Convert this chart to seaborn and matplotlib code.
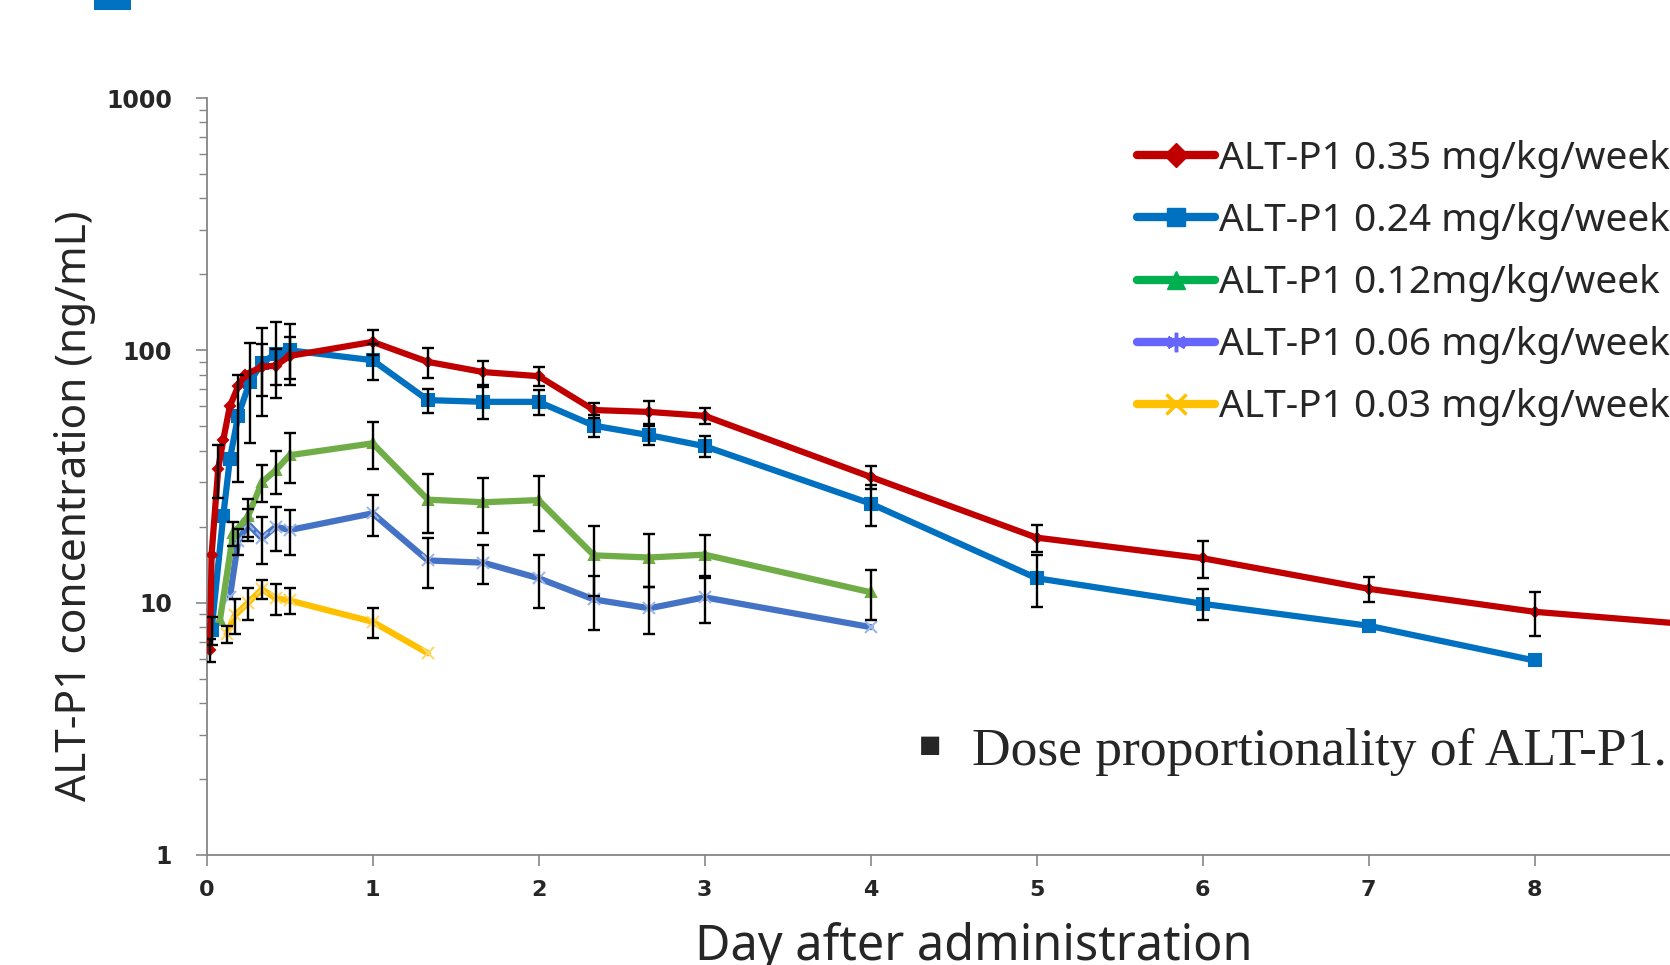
import matplotlib
matplotlib.use('Agg')
import matplotlib.pyplot as plt
import seaborn as sns
import numpy as np
from matplotlib.lines import Line2D
from matplotlib.patches import Rectangle
from matplotlib.ticker import LogLocator, NullFormatter

sns.set_style('white')
plt.rcParams['font.family'] = ['DejaVu Sans']

# ---------------- data ----------------
labels = ["ALT-P1 0.35 mg/kg/week", "ALT-P1 0.24 mg/kg/week",
          "ALT-P1 0.12mg/kg/week", "ALT-P1 0.06 mg/kg/week",
          "ALT-P1 0.03 mg/kg/week"]

day_035 = [0.02, 0.03, 0.07, 0.10, 0.14, 0.19, 0.23, 0.333, 0.417, 0.5, 1, 1.333,
           1.667, 2, 2.333, 2.667, 3, 4, 5, 6, 7, 8, 10]
conc_035 = [6.5, 15.5, 34, 44, 60, 72, 80, 86, 87, 95, 108, 90, 82, 79, 58, 57,
            55, 31.5, 18.1, 15.0, 11.35, 9.2, 7.2]
sd_035 = [0.7, 0, 8, 0, 0, 0, 0, 20, 14, 18, 12, 12, 9, 7, 4, 6, 4, 3.4, 2.2,
          2.5, 1.3, 1.8, 0]

day_024 = [0.03, 0.10, 0.14, 0.19, 0.26, 0.333, 0.417, 0.5, 1, 1.333, 1.667, 2,
           2.333, 2.667, 3, 4, 5, 6, 7, 8]
conc_024 = [7.8, 22, 37, 55, 75, 89, 97, 100, 91.4, 63.5, 62.5, 62.5, 50.3, 46.1,
            41.7, 24.7, 12.5, 9.9, 8.1, 5.9]
sd_024 = [1.0, 0, 0, 25, 32, 34, 32, 27, 15, 7, 9, 7, 5, 4, 4, 4.5, 2.9, 1.4, 0, 0]

day_012 = [0.08, 0.16, 0.25, 0.333, 0.417, 0.5, 1, 1.333, 1.667, 2, 2.333, 2.667, 3, 4]
conc_012 = [8.5, 18.8, 22, 30, 33.5, 38.4, 42.8, 25.6, 25.0, 25.5, 15.4, 15.1, 15.5, 11.0]
sd_012 = [0, 2, 3.8, 5, 6.5, 8.5, 9, 6.8, 6.2, 6.3, 4.8, 3.6, 3, 2.5]

day_006 = [0.14, 0.19, 0.25, 0.333, 0.417, 0.5, 1, 1.333, 1.667, 2, 2.333, 2.667, 3, 4]
conc_006 = [10.5, 17.5, 20.5, 18, 20.0, 19.4, 22.6, 14.7, 14.4, 12.5, 10.3, 9.5, 10.5, 8.0]
sd_006 = [0, 2, 3, 3.8, 4, 3.9, 4.2, 3.3, 2.5, 3, 2.5, 2, 2.2, 0]

day_003 = [0.12, 0.17, 0.25, 0.333, 0.417, 0.5, 1, 1.333]
conc_003 = [7.5, 8.9, 10.0, 11.3, 10.4, 10.2, 8.4, 6.3]
sd_003 = [0.6, 1.4, 1.45, 1.0, 1.5, 1.2, 1.15, 0]

x_ticks = [0, 1, 2, 3, 4, 5, 6, 7, 8]
y_ticks = [1, 10, 100, 1000]
y_ticklabels = ["1", "10", "100", "1000"]

# ---------------- styling ----------------
line_colors = ["#C00000", "#0070C0", "#70AD47", "#4472C4", "#FFC000"]
legend_colors = ["#C00000", "#0070C0", "#00B050", "#6666FF", "#FFC000"]
markers = ["D", "s", "^", "x", "x"]
msizes = [5, 8, 7, 8, 8]
mecs = ["#C00000", "#0070C0", "#70AD47", "#9DB7E8", "#FFD966"]

series = [(day_035, conc_035, sd_035), (day_024, conc_024, sd_024),
          (day_012, conc_012, sd_012), (day_006, conc_006, sd_006),
          (day_003, conc_003, sd_003)]

W, H = 1670, 965
fig = plt.figure(figsize=(W / 100, H / 100), dpi=100)
x0_px, x_unit = 206.6, 166.0
y1_px, y1000_px = 855.0, 98.0
ax = fig.add_axes([x0_px / W, 1 - y1_px / H, 10 * x_unit / W, (y1_px - y1000_px) / H])

for i, (d, c, s) in enumerate(series):
    sns.lineplot(x=d, y=c, ax=ax, color=line_colors[i], linewidth=4.5,
                 marker=markers[i], markersize=msizes[i], markeredgecolor=mecs[i],
                 markerfacecolor=line_colors[i], markeredgewidth=1.5,
                 sort=False, estimator=None, legend=False, zorder=3 + (5 - i) * 0.1)
for i, (d, c, s) in enumerate(series):
    d = np.asarray(d); c = np.asarray(c); s = np.asarray(s)
    m = s > 0
    ax.errorbar(d[m], c[m], yerr=s[m], fmt='none', ecolor='black',
                elinewidth=1.7, capsize=4, capthick=1.7, zorder=6)

ax.set_yscale('log')
ax.set_ylim(1, 1000)
ax.set_xlim(0, 10)
ax.set_xticks(x_ticks)
ax.set_yticks(y_ticks)
ax.set_yticklabels(y_ticklabels)
ax.yaxis.set_minor_locator(LogLocator(base=10, subs=np.arange(2, 10)))
ax.yaxis.set_minor_formatter(NullFormatter())

for sp in ['top', 'right']:
    ax.spines[sp].set_visible(False)
for sp in ['left', 'bottom']:
    ax.spines[sp].set_color('#868686')
    ax.spines[sp].set_linewidth(1.3)

ax.tick_params(axis='y', which='major', direction='out', length=8, width=1.2,
               color='#868686', pad=17, labelsize=17, left=True)
ax.tick_params(axis='y', which='minor', direction='out', length=6, width=1.0,
               color='#868686', left=True)
ax.tick_params(axis='x', which='major', direction='out', length=8, width=1.2,
               color='#868686', pad=10, labelsize=16, bottom=True)
for lbl in ax.get_xticklabels() + ax.get_yticklabels():
    lbl.set_fontweight('bold')

ax.set_xlabel("Day after administration", fontsize=35, family='Noto Sans')
ax.xaxis.set_label_coords(0.462, -0.088)
ax.set_ylabel("ALT-P1 concentration (ng/mL)", fontsize=30.5, family='Noto Sans')
ax.yaxis.set_label_coords((96 - x0_px) / (10 * x_unit), 0.462)

handles = [Line2D([], [], color=legend_colors[i], lw=6, marker=markers[i],
                  markersize=[12, 13, 13, 14, 14][i], markeredgewidth=[1, 1, 1, 2.5, 2.5][i],
                  markerfacecolor=legend_colors[i], markeredgecolor=legend_colors[i])
           for i in range(5)]
handles[3].set_marker((6, 2, 0))
fig.legend(handles, labels, loc='upper left', bbox_to_anchor=(1137 / W, 1 - 140 / H),
           frameon=False, prop={'family': 'Noto Sans', 'size': 28},
           handlelength=2.0, handletextpad=0.12, labelspacing=0.62,
           borderpad=0, borderaxespad=0)

fig.text(930 / W, 1 - 745 / H, "\u25A0", ha='center', va='center', fontsize=17,
         family=['DejaVu Sans'])
fig.text(972 / W, 1 - 765 / H, "Dose proportionality of ALT-P1.", ha='left',
         va='baseline', fontsize=38.5, family=['Liberation Serif', 'DejaVu Serif'])

fig.add_artist(Rectangle((94 / W, 1 - 10 / H), 37 / W, 10 / H,
                         transform=fig.transFigure, color='#0070C0', lw=0))

fig.savefig('out.png', dpi=100)
